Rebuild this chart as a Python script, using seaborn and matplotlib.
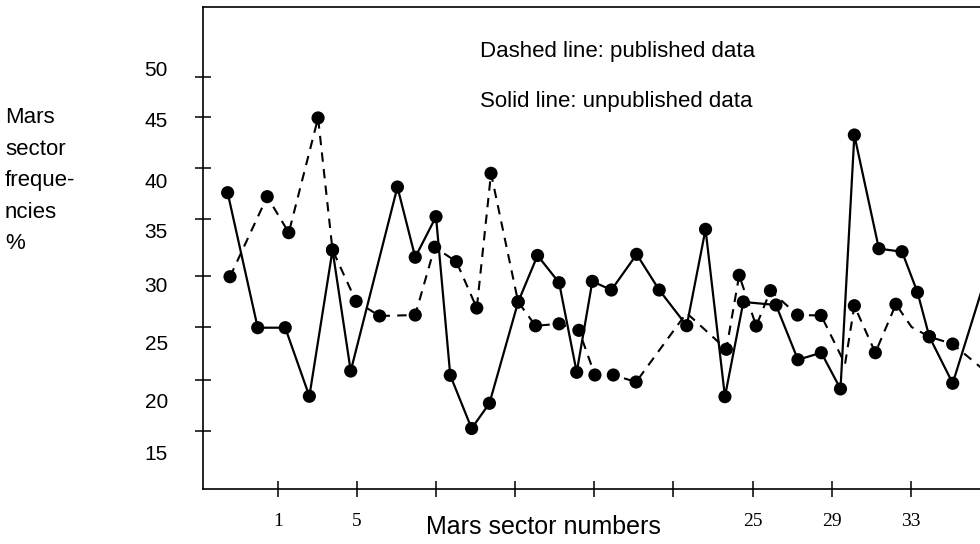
import numpy as np
import pandas as pd
import matplotlib
matplotlib.use('Agg')
import matplotlib.pyplot as plt
import seaborn as sns

# Solid line: unpublished data (sector number, frequency %)
solid_x = [-1.53, -0.01, 1.38, 2.60, 3.77, 4.69, 7.05, 7.95, 9.00, 9.72, 10.80, 11.70,
           13.15, 14.13, 15.22, 16.11, 16.90, 17.86, 19.14, 20.28, 21.67, 22.62, 23.60,
           24.53, 26.18, 27.29, 28.47, 29.44, 30.14, 31.38, 32.55, 33.33, 33.93, 35.11, 36.99]
solid_y = [37.74, 24.84, 24.84, 18.29, 32.26, 20.70, 38.28, 31.57, 35.45, 20.29, 15.21, 17.62,
           27.30, 31.74, 29.14, 20.58, 29.27, 28.44, 31.85, 28.44, 25.03, 34.24, 18.25,
           27.30, 27.01, 21.78, 22.45, 18.99, 43.25, 32.39, 32.10, 28.22, 23.98, 19.53, 30.93]

# Dashed line: published data
dashed_x = [-1.41, 0.47, 1.56, 3.04, 3.77, 4.96, 6.15, 7.95, 8.93, 10.03, 11.06, 11.78,
            13.15, 14.03, 15.22, 16.22, 17.03, 17.96, 19.11, 21.66, 23.67, 24.32, 25.18,
            25.90, 27.27, 28.46, 29.67, 30.14, 31.20, 32.24, 33.03, 33.93, 35.11, 36.99]
dashed_y = [29.71, 37.36, 33.92, 44.88, 32.26, 27.36, 25.96, 26.05, 32.53, 31.15, 26.72, 39.59,
            27.30, 25.02, 25.21, 24.59, 20.32, 20.32, 19.65, 26.25, 22.78, 29.85, 25.00,
            28.38, 26.05, 26.01, 21.37, 26.94, 22.45, 27.08, 24.91, 23.98, 23.28, 20.32]
# vertices of the dashed line drawn without a dot in the original
dashed_nodot = [19, 26, 30]

# axis ticks as printed (scanned figure, slightly irregular)
ytick_at = [48.8, 45.0, 40.1, 35.2, 29.8, 24.9, 19.8, 15.0]
ylabel_at = [49.4, 44.5, 38.7, 33.9, 28.8, 23.2, 17.7, 12.7]
ylabels = ['50', '45', '40', '35', '30', '25', '20', '15']
xtick_at = [1, 5, 9, 13, 17, 21, 25, 29, 33, 37]
xlabels = ['1', '5', '', '', '', '', '25', '29', '33', '']

solid = pd.DataFrame({'sector': solid_x, 'freq': solid_y})
dashed = pd.DataFrame({'sector': dashed_x, 'freq': dashed_y})
dashed_dots = dashed.drop(index=dashed_nodot)

sns.set_style('ticks')
plt.rcParams['font.family'] = ['Liberation Sans', 'DejaVu Sans']
plt.rcParams['text.color'] = 'black'
plt.rcParams['xtick.color'] = 'black'
plt.rcParams['ytick.color'] = 'black'

fig = plt.figure(figsize=(9.8, 5.44), dpi=100)
ax = fig.add_axes([203 / 980, 55 / 544, 797 / 980, 482 / 544])

sns.lineplot(data=dashed, x='sector', y='freq', sort=False, color='black',
             linewidth=1.5, ax=ax, linestyle=(0, (4.5, 3.5)))
sns.lineplot(data=solid, x='sector', y='freq', sort=False, color='black',
             linewidth=1.6, ax=ax)
sns.scatterplot(data=dashed_dots, x='sector', y='freq', color='black', s=90,
                edgecolor='none', ax=ax, zorder=3)
sns.scatterplot(data=solid, x='sector', y='freq', color='black', s=90,
                edgecolor='none', ax=ax, zorder=3)

ax.set_xlim(-2.775, 37.5)
ax.set_ylim(9.43, 55.48)
ax.set_xlabel('')
ax.set_ylabel('')

ax.set_yticks(ytick_at)
ax.set_yticklabels([])
for v, lab in zip(ylabel_at, ylabels):
    ax.text(-0.044, v, lab, transform=ax.get_yaxis_transform(), ha='right',
            va='center', fontsize=15)

ax.set_xticks(xtick_at)
ax.set_xticklabels(xlabels, fontfamily='Liberation Serif', fontsize=14)
ax.tick_params(axis='both', direction='inout', length=11, width=1.1,
               color='black', labelcolor='black')
ax.tick_params(axis='x', pad=12)

for side in ax.spines.values():
    side.set_linewidth(1.2)
    side.set_color('black')

fig.text(480 / 980, 1 - 52 / 544, 'Dashed line: published data', fontsize=16,
         ha='left', va='center')
fig.text(480 / 980, 1 - 101 / 544, 'Solid line: unpublished data', fontsize=16,
         ha='left', va='center')
fig.text(543 / 980, 1 - 527 / 544, 'Mars sector numbers', fontsize=18,
         ha='center', va='center')
fig.text(5 / 980, 1 - 107 / 544, 'Mars\nsector\nfreque-\nncies\n%', fontsize=16,
         ha='left', va='top', linespacing=1.66)

fig.savefig('out.png', dpi=100)
